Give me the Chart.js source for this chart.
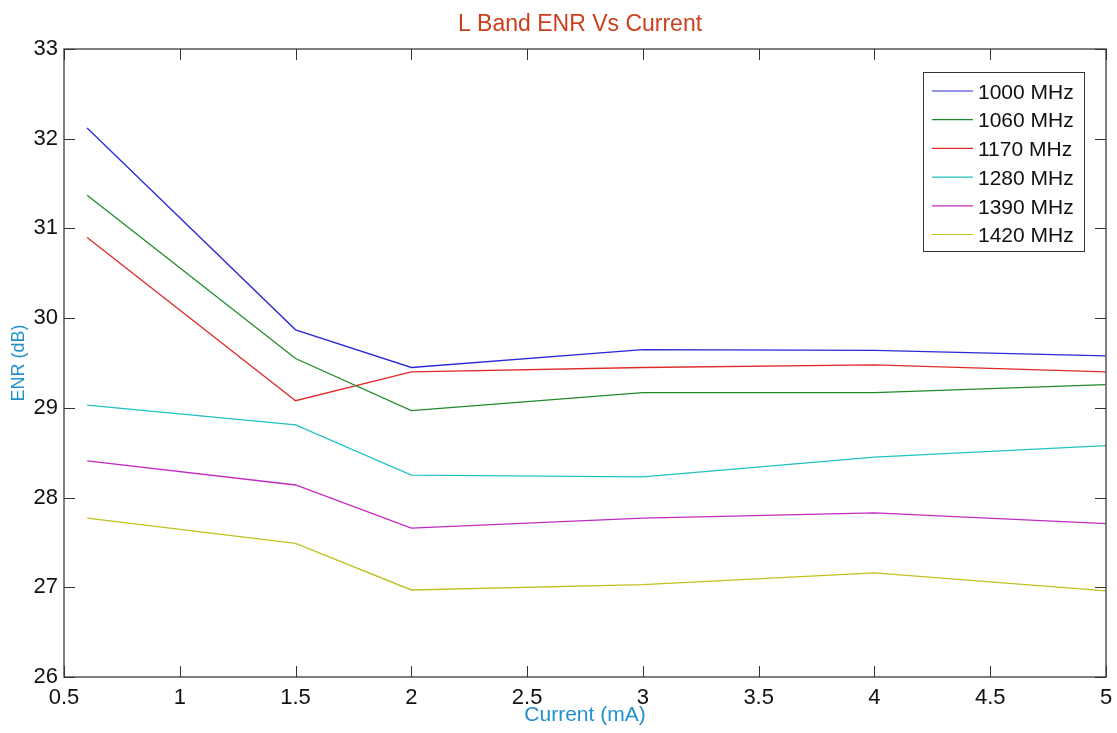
<!DOCTYPE html>
<html>
<head>
<meta charset="utf-8">
<script src="https://cdn.jsdelivr.net/npm/chart.js@4.4.0/dist/chart.umd.min.js"></script>
<style>
  html, body { margin: 0; padding: 0; background: #fff; }
  #wrap { width: 1117px; height: 733px; }
</style>
</head>
<body>
<div id="wrap"><canvas id="enrChart" width="1117" height="733"></canvas></div>
<script>
// Current (mA) sample points
const currents = [0.6, 1.5, 2, 3, 4, 5];

// ENR (dB) per frequency
const enr1000 = [32.12, 29.87, 29.45, 29.65, 29.64, 29.58];
const enr1060 = [31.37, 29.55, 28.97, 29.17, 29.17, 29.26];
const enr1170 = [30.90, 29.08, 29.40, 29.45, 29.48, 29.40];
const enr1280 = [29.03, 28.81, 28.25, 28.23, 28.45, 28.58];
const enr1390 = [28.41, 28.14, 27.66, 27.77, 27.83, 27.71];
const enr1420 = [27.77, 27.49, 26.97, 27.03, 27.16, 26.96];

const seriesLabels = ['1000 MHz', '1060 MHz', '1170 MHz', '1280 MHz', '1390 MHz', '1420 MHz'];
const seriesValues = [enr1000, enr1060, enr1170, enr1280, enr1390, enr1420];
const seriesColors = ['#2a2ad6', '#1f8a2a', '#e02a2a', '#22c0c0', '#c02ac0', '#c0c020'];

const chartTitle = 'L Band ENR Vs Current';
const FONT = '"Liberation Sans", "DejaVu Sans", sans-serif';

// Function to draw title, axes box, inward ticks and the boxed legend
const matlabAxes = {
    id: 'matlabAxes',
    afterDatasetsDraw(chart) {
        const { ctx, chartArea: a, scales } = chart;
        const tick = 11;
        ctx.save();

        // title
        ctx.fillStyle = '#cc3f1c';
        ctx.font = '23px ' + FONT;
        ctx.textAlign = 'center';
        ctx.textBaseline = 'middle';
        ctx.fillText(chartTitle, 580, 25);

        // box
        ctx.strokeStyle = '#555';
        ctx.lineWidth = 1.5;
        ctx.strokeRect(a.left, a.top, a.right - a.left, a.bottom - a.top);

        // ticks pointing inward
        ctx.beginPath();
        scales.x.ticks.forEach(t => {
            const px = Math.round(scales.x.getPixelForValue(t.value)) + 0.5;
            ctx.moveTo(px, a.bottom); ctx.lineTo(px, a.bottom - tick);
            ctx.moveTo(px, a.top); ctx.lineTo(px, a.top + tick);
        });
        scales.y.ticks.forEach(t => {
            const py = Math.round(scales.y.getPixelForValue(t.value)) + 0.5;
            ctx.moveTo(a.left, py); ctx.lineTo(a.left + tick, py);
            ctx.moveTo(a.right, py); ctx.lineTo(a.right - tick, py);
        });
        ctx.lineWidth = 1;
        ctx.strokeStyle = '#333';
        ctx.stroke();

        // legend box
        const w = 161, h = 179, rowH = 28.7;
        const x0 = a.right - 22 - w, y0 = a.top + 23;
        ctx.fillStyle = '#fff';
        ctx.fillRect(x0, y0, w, h);
        ctx.strokeStyle = '#333';
        ctx.lineWidth = 1;
        ctx.strokeRect(x0 + 0.5, y0 + 0.5, w, h);
        ctx.font = '21px ' + FONT;
        ctx.textBaseline = 'middle';
        ctx.textAlign = 'left';
        chart.data.datasets.forEach((ds, i) => {
            const cy = y0 + 19 + i * rowH;
            ctx.beginPath();
            ctx.strokeStyle = ds.borderColor;
            ctx.lineWidth = 1.2;
            ctx.moveTo(x0 + 9, cy); ctx.lineTo(x0 + 50, cy);
            ctx.stroke();
            ctx.fillStyle = '#111';
            ctx.fillText(ds.label, x0 + 55, cy + 2);
        });
        ctx.restore();
    }
};

new Chart(document.getElementById('enrChart').getContext('2d'), {
    type: 'line',
    data: {
        datasets: seriesLabels.map((label, i) => ({
            label: label,
            data: currents.map((c, j) => ({ x: c, y: seriesValues[i][j] })),
            borderColor: seriesColors[i],
            borderWidth: 1.3,
            pointRadius: 0,
            tension: 0,
            fill: false
        }))
    },
    options: {
        responsive: false,
        animation: false,
        layout: { padding: { left: 0, right: 11, top: 49, bottom: 0 } },
        plugins: {
            legend: { display: false },
            tooltip: { enabled: false },
            title: { display: false }
        },
        scales: {
            x: {
                type: 'linear',
                min: 0.5,
                max: 5,
                grid: { display: false, drawTicks: false },
                border: { display: false },
                ticks: {
                    stepSize: 0.5,
                    color: '#111',
                    padding: 8,
                    maxRotation: 0,
                    font: { family: FONT, size: 22 },
                    callback: v => String(v)
                },
                title: {
                    display: true,
                    text: 'Current (mA)',
                    color: '#2290cc',
                    font: { family: FONT, size: 21 },
                    padding: { top: 0, bottom: 5 }
                },
                afterFit(scale) {
                    scale.height = 56;
                    scale.paddingLeft = 0;
                    scale.paddingRight = 0;
                }
            },
            y: {
                min: 26,
                max: 33,
                grid: { display: false, drawTicks: false },
                border: { display: false },
                ticks: {
                    stepSize: 1,
                    color: '#111',
                    padding: 6,
                    font: { family: FONT, size: 22 }
                },
                title: {
                    display: true,
                    text: 'ENR (dB)',
                    color: '#2290cc',
                    font: { family: FONT, size: 18 },
                    padding: { top: 8, bottom: 0 }
                },
                afterFit(scale) {
                    scale.width = 64;
                    scale.paddingTop = 0;
                    scale.paddingBottom = 0;
                }
            }
        }
    },
    plugins: [matlabAxes]
});
</script>
</body>
</html>
